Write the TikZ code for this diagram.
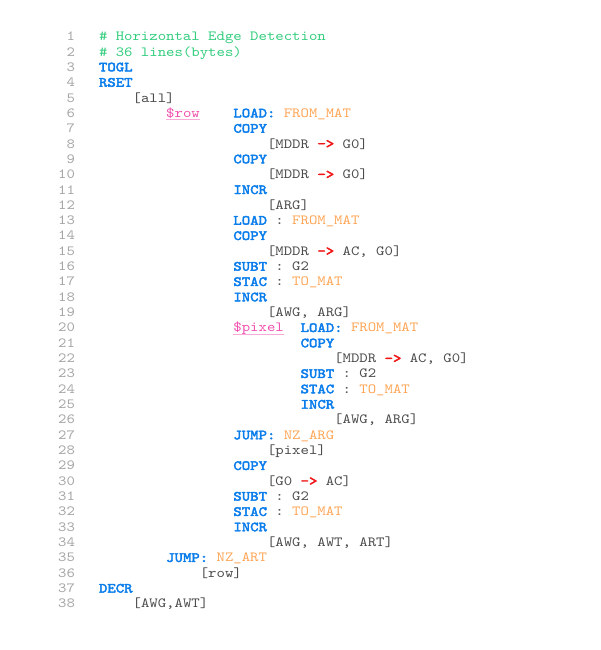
\documentclass[tikz,border=0pt]{standalone}
\usepackage{fontspec}
\newfontfamily\codefont{lmmono10-regular.otf}[BoldFont=lmmono10-regular.otf, BoldFeatures={FakeBold=3}, FakeStretch=1.143]
\definecolor{cmt}{RGB}{50,205,125}
\definecolor{kw}{RGB}{10,125,235}
\definecolor{strc}{RGB}{255,165,85}
\definecolor{lbl}{RGB}{240,80,175}
\definecolor{lblu}{RGB}{250,170,215}
\definecolor{txt}{RGB}{75,75,75}
\definecolor{lnum}{RGB}{165,165,165}
\definecolor{arr}{RGB}{240,20,20}
\newcommand\KW[1]{{\color{kw}\bfseries #1}}
\newcommand\ST[1]{{\color{strc}#1}}
\newcommand\AR{{\color{arr}\bfseries ->}}
\newcommand\LB[1]{{\color{lbl}#1}}
\tikzset{
  code/.style={anchor=base west, inner sep=0pt, outer sep=0pt, font=\codefont\fontsize{14}{14}\selectfont, text=txt},
  num/.style={anchor=base east, inner sep=0pt, outer sep=0pt, font=\codefont\fontsize{14}{14}\selectfont, text=lnum},
}
\newcommand\CL[4]{% name, line, column, text
  \node[code] (#1) at ({99+8.4*#3}, {-(40.7+15.33*(#2-1))}) {#4};}
\begin{document}
\begin{tikzpicture}[x=1pt,y=1pt]
\useasboundingbox (0,0) rectangle (600,-650);
\foreach \i in {1,...,38} {
  \node[num] (n\i) at (75, {-(40.7+15.33*(\i-1))}) {\i};
}
\CL{l1}{1}{0}{\color{cmt}\# Horizontal Edge Detection}
\CL{l2}{2}{0}{\color{cmt}\# 36 lines(bytes)}
\CL{l3}{3}{0}{\KW{TOGL}}
\CL{l4}{4}{0}{\KW{RSET}}
\CL{l5}{5}{4}{[all]}
\CL{l6a}{6}{8}{\LB{\$row}}
\draw[lblu, line width=0.6pt] (l6a.base west) ++(0,-2.2) -- ++(33.6,0);
\CL{l6b}{6}{16}{\KW{LOAD:} \ST{FROM\_MAT}}
\CL{l7}{7}{16}{\KW{COPY}}
\CL{l8}{8}{20}{[MDDR \AR{} G0]}
\CL{l9}{9}{16}{\KW{COPY}}
\CL{l10}{10}{20}{[MDDR \AR{} G0]}
\CL{l11}{11}{16}{\KW{INCR}}
\CL{l12}{12}{20}{[ARG]}
\CL{l13}{13}{16}{\KW{LOAD} : \ST{FROM\_MAT}}
\CL{l14}{14}{16}{\KW{COPY}}
\CL{l15}{15}{20}{[MDDR \AR{} AC, G0]}
\CL{l16}{16}{16}{\KW{SUBT} : G2}
\CL{l17}{17}{16}{\KW{STAC} : \ST{TO\_MAT}}
\CL{l18}{18}{16}{\KW{INCR}}
\CL{l19}{19}{20}{[AWG, ARG]}
\CL{l20a}{20}{16}{\LB{\$pixel}}
\draw[lblu, line width=0.6pt] (l20a.base west) ++(0,-2.2) -- ++(50.4,0);
\CL{l20b}{20}{24}{\KW{LOAD:} \ST{FROM\_MAT}}
\CL{l21}{21}{24}{\KW{COPY}}
\CL{l22}{22}{28}{[MDDR \AR{} AC, G0]}
\CL{l23}{23}{24}{\KW{SUBT} : G2}
\CL{l24}{24}{24}{\KW{STAC} : \ST{TO\_MAT}}
\CL{l25}{25}{24}{\KW{INCR}}
\CL{l26}{26}{28}{[AWG, ARG]}
\CL{l27}{27}{16}{\KW{JUMP:} \ST{NZ\_ARG}}
\CL{l28}{28}{20}{[pixel]}
\CL{l29}{29}{16}{\KW{COPY}}
\CL{l30}{30}{20}{[G0 \AR{} AC]}
\CL{l31}{31}{16}{\KW{SUBT} : G2}
\CL{l32}{32}{16}{\KW{STAC} : \ST{TO\_MAT}}
\CL{l33}{33}{16}{\KW{INCR}}
\CL{l34}{34}{20}{[AWG, AWT, ART]}
\CL{l35}{35}{8}{\KW{JUMP:} \ST{NZ\_ART}}
\CL{l36}{36}{12}{[row]}
\CL{l37}{37}{0}{\KW{DECR}}
\CL{l38}{38}{4}{[AWG,AWT]}
\end{tikzpicture}
\end{document}
